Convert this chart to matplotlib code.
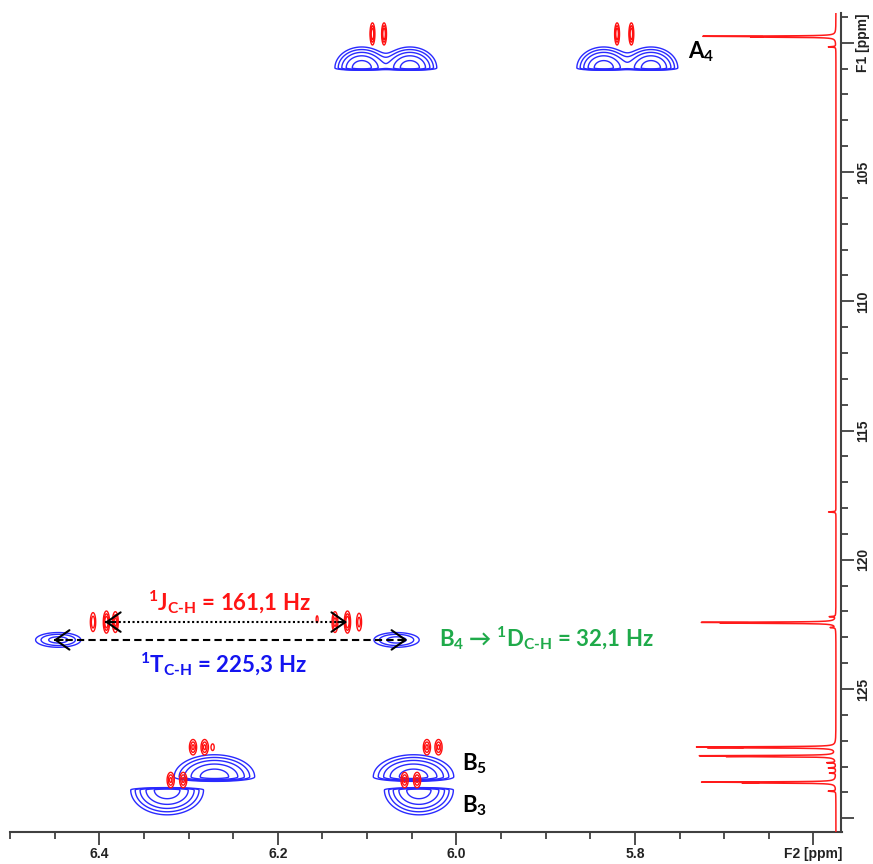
import numpy as np
import matplotlib.pyplot as plt
from matplotlib.patches import ArrowStyle

plt.rcParams['mathtext.fontset'] = 'custom'
plt.rcParams['mathtext.rm'] = 'Lato:bold'
plt.rcParams['mathtext.it'] = 'Lato:bold'
plt.rcParams['mathtext.bf'] = 'Lato:bold'

# blue cross peaks (F2 ppm, F1 ppm, widths, amplitude)
blue_x = [6.106, 6.052, 5.835, 5.782, 6.446, 6.067, 6.271, 6.048, 6.324, 6.042]
blue_y = [100.98, 100.98, 100.98, 100.98, 123.10, 123.10, 128.40, 128.40, 128.90, 128.90]
blue_sx = [0.014, 0.014, 0.014, 0.014, 0.016, 0.016, 0.021, 0.021, 0.019, 0.018]
blue_up = [0.38, 0.38, 0.38, 0.38, 0.18, 0.18, 0.40, 0.40, 0.04, 0.04]
blue_dn = [0.04, 0.04, 0.04, 0.04, 0.18, 0.18, 0.08, 0.08, 0.45, 0.45]
blue_amp = [1.0, 1.0, 1.0, 1.0, 0.35, 0.35, 1.0, 1.0, 1.0, 1.0]

# red cross peaks
red_x = [6.094, 6.081, 5.820, 5.804,
         6.407, 6.392, 6.382, 6.156, 6.136, 6.122, 6.109,
         6.295, 6.282, 6.273, 6.033, 6.020,
         6.320, 6.306, 6.058, 6.044]
red_y = [99.66, 99.66, 99.66, 99.66,
         122.41, 122.41, 122.41, 122.30, 122.41, 122.41, 122.41,
         127.25, 127.25, 127.25, 127.25, 127.25,
         128.52, 128.52, 128.52, 128.52]
red_sx = [0.0014] * 4 + [0.0018] * 7 + [0.0023] * 9
red_sy = [0.22] * 4 + [0.22] * 7 + [0.17] * 9
red_amp = [1.0, 1.0, 1.0, 1.0,
           0.6, 1.0, 0.8, 0.18, 0.8, 1.0, 0.5,
           0.7, 0.7, 0.2, 0.7, 0.7,
           0.7, 0.7, 0.7, 0.7]

# 1D F1 projection lines (ppm, height)
proj_ppm = [99.75, 99.78, 100.16, 118.15, 122.20, 122.42, 122.45, 122.62,
            127.24, 127.27, 127.58, 127.61, 127.85, 128.05, 128.25,
            128.60, 128.63, 128.95]
proj_h = [1.0, 0.55, 0.06, 0.06, 0.05, 1.0, 0.8, 0.04,
          1.0, 0.9, 1.02, 0.75, 0.07, 0.06, 0.05,
          1.0, 0.62, 0.06]

xticks = [6.4, 6.2, 6.0, 5.8, 5.6]
xlabels = ['6.4', '6.2', '6.0', '5.8', 'F2 [ppm]']
yticks = [100, 105, 110, 115, 120, 125, 130]
ylabels = ['F1 [ppm]', '105', '110', '115', '120', '125', '']

xg = np.linspace(5.56, 6.50, 1900)
yg = np.linspace(98.8, 130.6, 1600)


def peak_map(xs, ys, sx, sup, sdn, amp):
    z = np.zeros((yg.size, xg.size))
    for x0, y0, s, su, sd, a in zip(xs, ys, sx, sup, sdn, amp):
        fx = np.exp(-0.5 * ((xg - x0) / s) ** 2)
        dy = yg - y0
        sy = np.where(dy < 0, su, sd)
        fy = np.exp(-0.5 * (dy / sy) ** 2)
        z += a * np.outer(fy, fx)
    return z


zb = peak_map(blue_x, blue_y, blue_sx, blue_up, blue_dn, blue_amp)
zr = peak_map(red_x, red_y, red_sx, red_sy, red_sy, red_amp)

fig = plt.figure(figsize=(8.73, 8.64), dpi=100)
ax = fig.add_axes([10 / 873, 32 / 864, 831.5 / 873, 819 / 864])

ax.contour(xg, yg, zb, levels=[0.1, 0.17, 0.28, 0.46, 0.75],
           colors='#2a2aff', linewidths=1.0)
ax.contour(xg, yg, zr, levels=[0.15, 0.35, 0.6],
           colors='#ff1010', linewidths=1.0)

ax.set_xlim(6.4959, 5.5686)
ax.set_ylim(130.53, 98.85)

for s in ['left', 'top']:
    ax.spines[s].set_visible(False)
for s in ['bottom', 'right']:
    ax.spines[s].set_color('#404040')
    ax.spines[s].set_linewidth(1.5)

ax.yaxis.tick_right()
ax.set_xticks(xticks)
ax.set_xticklabels(xlabels)
ax.set_xticks(np.arange(5.6, 6.5, 0.05), minor=True)
ax.set_yticks(yticks)
ax.set_yticklabels(ylabels)
ax.set_yticks(np.arange(99, 131, 1), minor=True)
ax.tick_params(which='both', direction='out', color='#404040', width=1.3)
ax.tick_params(which='major', length=9)
ax.tick_params(which='minor', length=5)
ax.tick_params(axis='x', pad=1.5)
ax.tick_params(axis='y', pad=1.5, labelrotation=90)
for lab in ax.get_xticklabels() + ax.get_yticklabels():
    lab.set_fontfamily('Liberation Sans')
    lab.set_fontweight('bold')
    lab.set_fontsize(10)
    lab.set_color('#222222')
for lab in ax.get_yticklabels():
    lab.set_va('center')

# F1 projection drawn along the right edge
yp = np.linspace(98.8, 130.6, 8000)
sp = np.zeros_like(yp)
for p, h in zip(proj_ppm, proj_h):
    sp += h / (1 + ((yp - p) / 0.012) ** 2)
axp = ax.inset_axes([0.80, 0, 0.20, 1])
axp.plot(sp, yp, color='#ff1a1a', lw=1.1)
axp.set_xlim(1.3, -0.045)
axp.set_ylim(130.53, 98.85)
axp.axis('off')

# coupling arrows between the B4 peaks
red_l = np.mean(red_x[4:7])
red_r = np.mean(red_x[8:11])
y_j = red_y[5]
ax.plot([red_l, red_r], [y_j, y_j], color='black', lw=1.5, ls=(0, (1, 1.2)))
y_t = blue_y[4]
t_l = blue_x[4] + 0.005
t_r = blue_x[5] - 0.012
ax.plot([t_l, t_r], [y_t, y_t], color='black', lw=1.5, ls=(0, (3.5, 2)))
head = ArrowStyle('->', head_length=1.0, head_width=0.7)
for tip, tail, yy in [(red_l, red_l - 0.01, y_j), (red_r, red_r + 0.01, y_j),
                      (t_l, t_l - 0.01, y_t), (t_r, t_r + 0.01, y_t)]:
    ax.annotate('', xy=(tip, yy), xytext=(tail, yy),
                arrowprops=dict(arrowstyle=head, color='black', lw=1.5,
                                shrinkA=0, shrinkB=0, mutation_scale=10))

fam = ['Lato', 'DejaVu Sans']
ax.text(6.254, 121.94, r'$^{1}$J$_{\text{C-H}}$ = 161,1 Hz', color='#ff1414',
        fontsize=16, fontweight='bold', family=fam, ha='center', va='baseline')
ax.text(6.261, 124.34, r'$^{1}$T$_{\text{C-H}}$ = 225,3 Hz', color='#1414f0',
        fontsize=16, fontweight='bold', family=fam, ha='center', va='baseline')
ax.text(6.020, 123.34, r'B$_{4}$ → $^{1}$D$_{\text{C-H}}$ = 32,1 Hz', color='#1faa4a',
        fontsize=16, fontweight='bold', family=fam, ha='left', va='baseline')
ax.text(5.740, 100.59, r'A$_{4}$', color='black', fontsize=16,
        fontweight='bold', family=fam, ha='left', va='baseline')
ax.text(5.994, 128.13, r'B$_{5}$', color='black', fontsize=16,
        fontweight='bold', family=fam, ha='left', va='baseline')
ax.text(5.994, 129.76, r'B$_{3}$', color='black', fontsize=16,
        fontweight='bold', family=fam, ha='left', va='baseline')

fig.savefig('out.png', dpi=100)
